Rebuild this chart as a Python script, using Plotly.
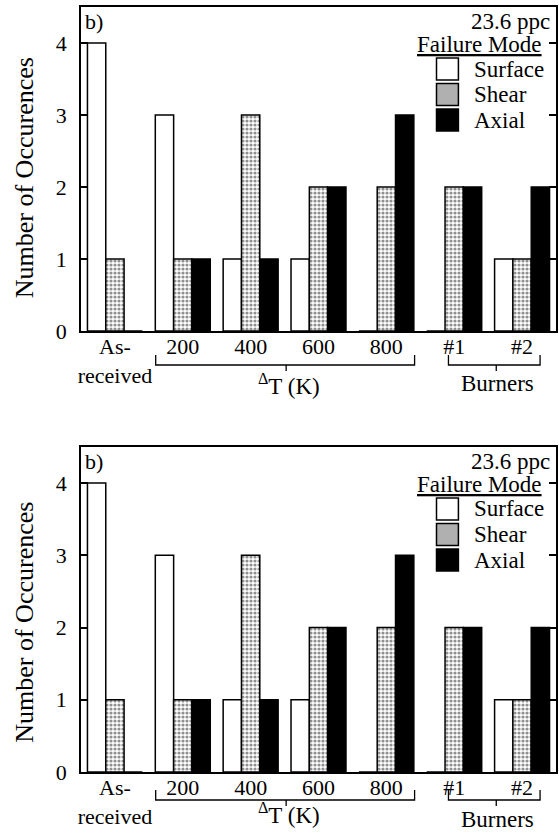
import plotly.graph_objects as go

# ---------------- data ----------------
categories = ["As-<br>received", "200", "400", "600", "800", "#1", "#2"]
series_names = ["Surface", "Shear", "Axial"]
surface = [4, 3, 1, 1, 0, 0, 1]
shear = [1, 1, 3, 2, 2, 2, 1]
axial = [0, 1, 1, 2, 3, 2, 2]
y_ticks = [0, 1, 2, 3, 4]
y_title = "Number of Occurences"
panel_tag = "b)"
density_label = "23.6 ppc"
legend_title = "Failure Mode"
group_dt_label = "<sup>Δ</sup>T (K)"
group_burner_label = "Burners"

# ---------------- layout geometry (pixels) ----------------
W, H = 559, 835
ML, MR, MT, MB = 81, 1, 7, 63
PW, PH = W - ML - MR, H - MT - MB
# (top px, bottom px, bracket offset, dT label offset, burners label offset, title offset)
panels = [(7, 331, 34, 53, 52, 9), (447, 772, 28, 41, 47, 13)]

FONT = "Liberation Serif, Times New Roman, serif"

fig = go.Figure()

fills = {
    "Surface": dict(color="white", line=dict(color="black", width=1.5)),
    "Shear": dict(color="white", line=dict(color="black", width=1.5),
                  pattern=dict(shape=".", fgcolor="#222", bgcolor="white", size=4, solidity=0.5)),
    "Axial": dict(color="black", line=dict(color="black", width=1.5)),
}
values = {"Surface": surface, "Shear": shear, "Axial": axial}

for i in range(2):
    xa = "x" if i == 0 else "x2"
    ya = "y" if i == 0 else "y2"
    for name in series_names:
        fig.add_trace(go.Bar(x=categories, y=values[name], name=name, xaxis=xa, yaxis=ya,
                             marker=fills[name], showlegend=False))

def yfrac(top, bot):
    return [1 - (bot - MT) / PH, 1 - (top - MT) / PH]

axis_common_x = dict(type="category", range=[-0.5, 6.5], showline=True, linecolor="black",
                     linewidth=2, mirror=True, ticks="", showgrid=False, zeroline=False,
                     tickfont=dict(family=FONT, size=22, color="black"), ticklabelstandoff=-5)
axis_common_y = dict(range=[0, 4.5], tickvals=y_ticks, showline=True, linecolor="black",
                     linewidth=1.5, mirror="ticks", ticks="inside", ticklen=7, tickwidth=1.5,
                     tickcolor="black", showgrid=False, zeroline=False,
                     tickfont=dict(family=FONT, size=22, color="black"), ticklabelstandoff=8)

fig.update_layout(
    width=W, height=H, margin=dict(l=ML, r=MR, t=MT, b=MB),
    paper_bgcolor="white", plot_bgcolor="white",
    barmode="group", bargap=0.19, bargroupgap=0,
    font=dict(family=FONT, color="black"),
    xaxis=dict(axis_common_x, anchor="y", domain=[0, 1]),
    yaxis=dict(axis_common_y, anchor="x", domain=yfrac(panels[0][0], panels[0][1])),
    xaxis2=dict(axis_common_x, anchor="y2", domain=[0, 1]),
    yaxis2=dict(axis_common_y, anchor="x2", domain=yfrac(panels[1][0], panels[1][1])),
)

def xd(px):
    return (px - ML) / PW

legend_fill = {"Surface": "white", "Shear": "#b0b0b0", "Axial": "black"}

for i, (top, bot, boff, dtoff, buoff, toff) in enumerate(panels):
    yref = "y domain" if i == 0 else "y2 domain"
    xref = "x domain" if i == 0 else "x2 domain"

    def yd(py, top=top, bot=bot):
        return (bot - py) / (bot - top)

    def ann(text, px, py, xanchor="center", size=22, **kw):
        fig.add_annotation(text=text, x=xd(px), y=yd(py), xref=xref, yref=yref,
                           xanchor=xanchor, yanchor="middle", showarrow=False,
                           font=dict(family=FONT, size=size, color="black"), **kw)

    ann(panel_tag, 83, top + 15, xanchor="left")
    ann(density_label, 554, top + 15, xanchor="right", size=23)
    ann(f"<span style='text-decoration:underline'>{legend_title}</span>", 546, top + 38,
        xanchor="right", size=23)
    for k, name in enumerate(series_names):
        cy = top + 62 + k * 25.5
        fig.add_shape(type="rect", xref=xref, yref=yref,
                      x0=xd(438), x1=xd(460), y0=yd(cy - 11), y1=yd(cy + 11),
                      line=dict(color="black", width=1.5), fillcolor=legend_fill[name])
        ann(name, 474, cy, xanchor="left", size=23)

    # y-axis title
    fig.add_annotation(text=y_title, x=-(ML - 24) / PW, y=yd((top + bot) / 2 + toff),
                       xref=xref, yref=yref, xanchor="center", yanchor="middle",
                       textangle=-90, showarrow=False,
                       font=dict(family=FONT, size=26, color="black"))

    # group brackets
    by = bot + boff
    for (x0, x1, xm) in [(156, 416, 287), (450, 542, 498)]:
        path = (f"M {xd(x0)},{yd(by - 10)} L {xd(x0)},{yd(by)} L {xd(x1)},{yd(by)} "
                f"L {xd(x1)},{yd(by - 10)} M {xd(xm)},{yd(by)} L {xd(xm)},{yd(by + 6)}")
        fig.add_shape(type="path", path=path, xref=xref, yref=yref,
                      line=dict(color="black", width=1.3))
    ann(group_dt_label, 290, bot + dtoff, size=23)
    ann(group_burner_label, 499, bot + buoff, size=23)

fig.write_html("out.html")
